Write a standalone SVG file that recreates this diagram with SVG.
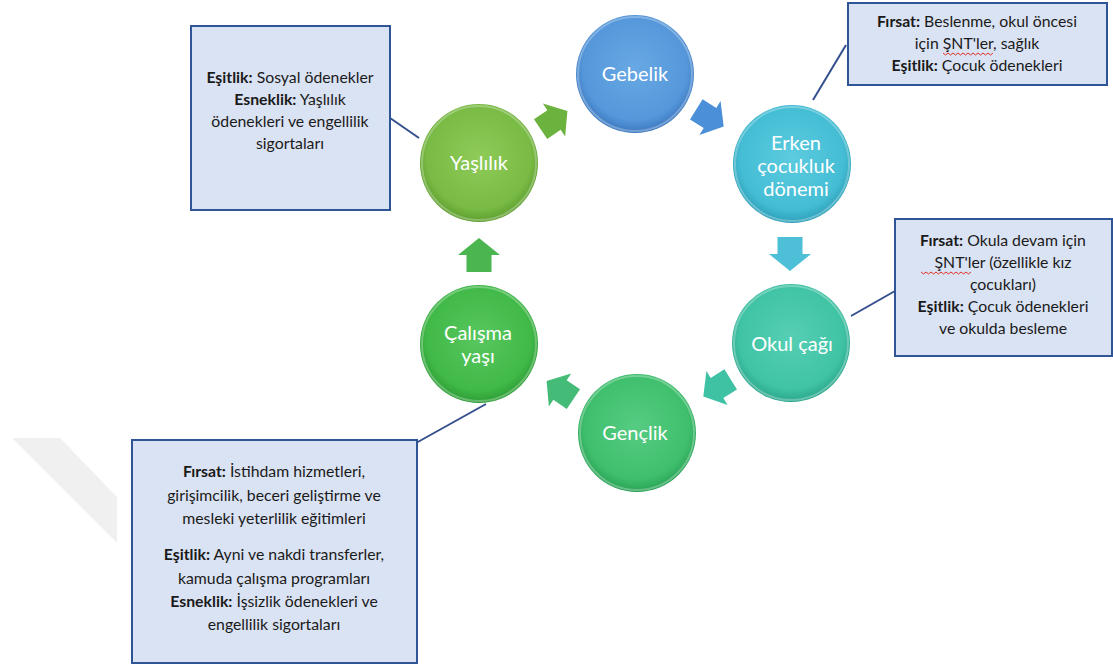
<svg xmlns="http://www.w3.org/2000/svg" width="1113" height="671" viewBox="0 0 1113 671">
<style>
.box{fill:#dae3f3;stroke:#2f5597;stroke-width:2}
.bt{font-family:Lato,"Liberation Sans",sans-serif;font-size:15.8px;fill:#1a1a1a;text-anchor:middle}
.bt tspan.b{font-weight:bold}
.ct{font-family:Lato,"Liberation Sans",sans-serif;font-size:20px;fill:#ffffff;text-anchor:middle}
.conn{stroke:#344f8e;stroke-width:2;fill:none}
.ring{fill:none;stroke:#ffffff;stroke-opacity:0.28;stroke-width:2}
.sq{fill:none;stroke:#e0302a;stroke-width:1}
</style>
<defs>
<path id="arr" d="M-17,-12.5 L0,-12.5 L0,-21 L17,0 L0,21 L0,12.5 L-17,12.5 Z"/>
<radialGradient id="gGeb" cx="50%" cy="45%" r="55%"><stop offset="0" stop-color="#68a8e4"/><stop offset="0.8" stop-color="#5597da"/><stop offset="1" stop-color="#3c77bf"/></radialGradient>
<radialGradient id="gErk" cx="50%" cy="45%" r="55%"><stop offset="0" stop-color="#5ccbdf"/><stop offset="0.8" stop-color="#44bdd4"/><stop offset="1" stop-color="#2d9fb8"/></radialGradient>
<radialGradient id="gOku" cx="50%" cy="45%" r="55%"><stop offset="0" stop-color="#56cfb4"/><stop offset="0.8" stop-color="#40c3a5"/><stop offset="1" stop-color="#2aa68b"/></radialGradient>
<radialGradient id="gGen" cx="50%" cy="45%" r="55%"><stop offset="0" stop-color="#56cc82"/><stop offset="0.8" stop-color="#3fbf6d"/><stop offset="1" stop-color="#29a155"/></radialGradient>
<radialGradient id="gCal" cx="50%" cy="45%" r="55%"><stop offset="0" stop-color="#58c75e"/><stop offset="0.8" stop-color="#41b948"/><stop offset="1" stop-color="#2c9c34"/></radialGradient>
<radialGradient id="gYas" cx="50%" cy="45%" r="55%"><stop offset="0" stop-color="#8ecb58"/><stop offset="0.8" stop-color="#79bb44"/><stop offset="1" stop-color="#5d9d2f"/></radialGradient>
</defs>
<rect width="1113" height="671" fill="#ffffff"/>
<polygon points="12,438 60,438 117,497 117,543" fill="#f0f0f0"/>

<g id="connectors">
<line class="conn" x1="390" y1="118" x2="419" y2="138"/>
<line class="conn" x1="813" y1="100" x2="846" y2="45"/>
<line class="conn" x1="851" y1="316" x2="895" y2="291"/>
<line class="conn" x1="416" y1="443" x2="486" y2="404"/>
<use href="#arr" transform="translate(554,120) rotate(-34) scale(0.95)" fill="#6cb23f"/>
<use href="#arr" transform="translate(710,118) rotate(32) scale(0.95)" fill="#4a8fd8"/>
<use href="#arr" transform="translate(790,254) rotate(90)" fill="#4dbfd6"/>
<use href="#arr" transform="translate(717,388) rotate(148) scale(0.95)" fill="#3fc1a4"/>
<use href="#arr" transform="translate(560,390) rotate(-146) scale(0.95)" fill="#45bb78"/>
<use href="#arr" transform="translate(479,255) rotate(-90)" fill="#4bb54f"/>
</g>

<g id="node-gebelik">
<circle cx="635" cy="74" r="59" fill="url(#gGeb)"/>
<circle class="ring" cx="635" cy="74" r="57"/>
<text class="ct" x="635" y="81">Gebelik</text>
</g>
<g id="node-erken">
<circle cx="792" cy="164" r="59" fill="url(#gErk)"/>
<circle class="ring" cx="792" cy="164" r="57"/>
<text class="ct" x="796" y="150">Erken</text>
<text class="ct" x="796" y="173">çocukluk</text>
<text class="ct" x="796" y="196">dönemi</text>
</g>
<g id="node-okul">
<circle cx="791" cy="343" r="59" fill="url(#gOku)"/>
<circle class="ring" cx="791" cy="343" r="57"/>
<text class="ct" x="792" y="351">Okul çağı</text>
</g>
<g id="node-genclik">
<circle cx="637" cy="433" r="59" fill="url(#gGen)"/>
<circle class="ring" cx="637" cy="433" r="57"/>
<text class="ct" x="635" y="440">Gençlik</text>
</g>
<g id="node-calisma">
<circle cx="479" cy="344" r="59" fill="url(#gCal)"/>
<circle class="ring" cx="479" cy="344" r="57"/>
<text class="ct" x="478" y="340">Çalışma</text>
<text class="ct" x="478" y="363">yaşı</text>
</g>
<g id="node-yaslilik">
<circle cx="479" cy="163" r="59" fill="url(#gYas)"/>
<circle class="ring" cx="479" cy="163" r="57"/>
<text class="ct" x="479" y="170">Yaşlılık</text>
</g>

<g id="box-yaslilik">
<rect class="box" x="191" y="26" width="199" height="184"/>
<text class="bt" x="290" y="83"><tspan class="b">Eşitlik:</tspan> Sosyal ödenekler</text>
<text class="bt" x="290" y="105"><tspan class="b">Esneklik:</tspan> Yaşlılık</text>
<text class="bt" x="290" y="127">ödenekleri ve engellilik</text>
<text class="bt" x="290" y="149">sigortaları</text>
</g>
<g id="box-erken">
<rect class="box" x="848" y="3" width="259" height="82"/>
<text class="bt" x="977" y="27"><tspan class="b">Fırsat:</tspan> Beslenme, okul öncesi</text>
<text class="bt" x="977" y="49">için ŞNT'ler, sağlık</text>
<path class="sq" d="M943,53 l2.5,2 l2.5,-2 l2.5,2 l2.5,-2 l2.5,2 l2.5,-2 l2.5,2 l2.5,-2 l2.5,2 l2.5,-2 l2.5,2 l2.5,-2 l2.5,2 l2.5,-2 l2.5,2 l2.5,-2 l2.5,2 l2.5,-2 l2.5,2 l2.5,-2"/>
<text class="bt" x="977" y="71"><tspan class="b">Eşitlik:</tspan> Çocuk ödenekleri</text>
</g>
<g id="box-okul">
<rect class="box" x="895" y="219" width="217" height="137"/>
<text class="bt" x="1003" y="246"><tspan class="b">Fırsat:</tspan> Okula devam için</text>
<text class="bt" x="1003" y="268">ŞNT'ler (özellikle kız</text>
<path class="sq" d="M921,272 l2.5,2 l2.5,-2 l2.5,2 l2.5,-2 l2.5,2 l2.5,-2 l2.5,2 l2.5,-2 l2.5,2 l2.5,-2 l2.5,2 l2.5,-2 l2.5,2 l2.5,-2 l2.5,2 l2.5,-2 l2.5,2 l2.5,-2 l2.5,2 l2.5,-2"/>
<text class="bt" x="1003" y="290">çocukları)</text>
<text class="bt" x="1003" y="312"><tspan class="b">Eşitlik:</tspan> Çocuk ödenekleri</text>
<text class="bt" x="1003" y="334">ve okulda besleme</text>
</g>
<g id="box-calisma">
<rect class="box" x="132" y="440" width="285" height="223"/>
<text class="bt" x="274" y="477"><tspan class="b">Fırsat:</tspan> İstihdam hizmetleri,</text>
<text class="bt" x="274" y="501">girişimcilik, beceri geliştirme ve</text>
<text class="bt" x="274" y="524">mesleki yeterlilik eğitimleri</text>
<text class="bt" x="274" y="560"><tspan class="b">Eşitlik:</tspan> Ayni ve nakdi transferler,</text>
<text class="bt" x="274" y="584">kamuda çalışma programları</text>
<text class="bt" x="274" y="607"><tspan class="b">Esneklik:</tspan> İşsizlik ödenekleri ve</text>
<text class="bt" x="274" y="630">engellilik sigortaları</text>
</g>
</svg>
